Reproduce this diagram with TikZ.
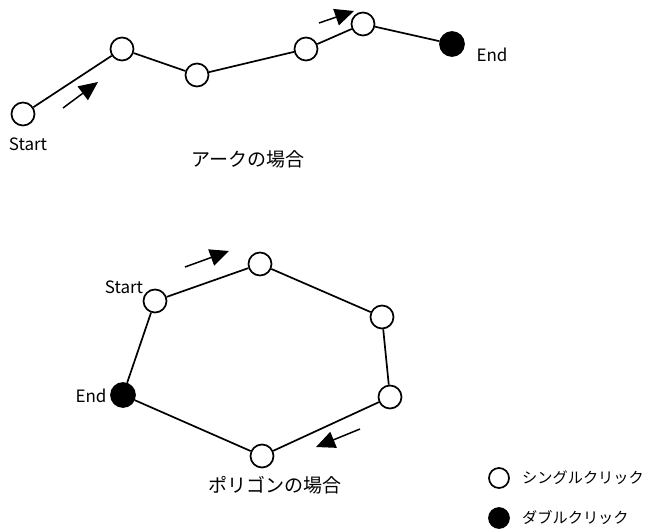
\documentclass[tikz,border=0pt]{standalone}
\usepackage{fontspec}
\setmainfont{Noto Sans CJK JP}
\usetikzlibrary{arrows.meta}

\tikzset{
  click/.style={circle, draw, line width=1.7pt, fill=white, minimum size=23pt, inner sep=0pt},
  dclick/.style={circle, draw, line width=1.7pt, fill=black, minimum size=24pt, inner sep=0pt},
  edge/.style={line width=1.7pt},
  dir/.style={line width=1.5pt, -{Triangle[length=19pt,width=17pt]}},
  lbl/.style={font=\fontsize{17}{20}\selectfont},
  ttl/.style={font=\fontsize{19}{22}\selectfont},
  leg/.style={font=\fontsize{15.2}{18}\selectfont, anchor=west, inner sep=0pt}
}

\begin{document}
\begin{tikzpicture}[x=1pt, y=-1pt]
  \useasboundingbox (0,0) rectangle (648,528);

  % arc
  \node[click] (a1) at (23,114) {};
  \node[click] (a2) at (122,49) {};
  \node[click] (a3) at (197,75) {};
  \node[click] (a4) at (306,49) {};
  \node[click] (a5) at (363,24) {};
  \node[dclick] (a6) at (452,44) {};
  \draw[edge] (a1) -- (a2) -- (a3) -- (a4) -- (a5) -- (a6);

  \node[lbl] (astart) at (28,144) {Start};
  \node[lbl] (aend) at (492,55) {End};
  \node[ttl] (atitle) at (248,159) {アークの場合};

  \coordinate (ar1s) at (63,108);
  \coordinate (ar1e) at (98,82);
  \draw[dir] (ar1s) -- (ar1e);
  \coordinate (ar2s) at (319,23);
  \coordinate (ar2e) at (354,11);
  \draw[dir] (ar2s) -- (ar2e);

  % polygon
  \node[click] (p1) at (155,301) {};
  \node[click] (p2) at (260,264) {};
  \node[click] (p3) at (382,317) {};
  \node[click] (p4) at (390,397) {};
  \node[click] (p5) at (262,456) {};
  \node[dclick] (p6) at (123,395) {};
  \draw[edge] (p1) -- (p2) -- (p3) -- (p4) -- (p5) -- (p6) -- (p1);

  \node[lbl] (pstart) at (124,287) {Start};
  \node[lbl] (pend) at (91,396) {End};
  \node[ttl] (ptitle) at (275,485) {ポリゴンの場合};

  \coordinate (pr1s) at (185,267);
  \coordinate (pr1e) at (229,251);
  \draw[dir] (pr1s) -- (pr1e);
  \coordinate (pr2s) at (360,429);
  \coordinate (pr2e) at (316,447);
  \draw[dir] (pr2s) -- (pr2e);

  % legend
  \node[click, minimum size=20pt] (lsingle) at (499,478) {};
  \node[leg] (tsingle) at (522,478) {シングルクリック};
  \node[dclick, minimum size=20pt] (ldouble) at (499,518) {};
  \node[leg] (tdouble) at (522,518) {ダブルクリック};
\end{tikzpicture}
\end{document}
